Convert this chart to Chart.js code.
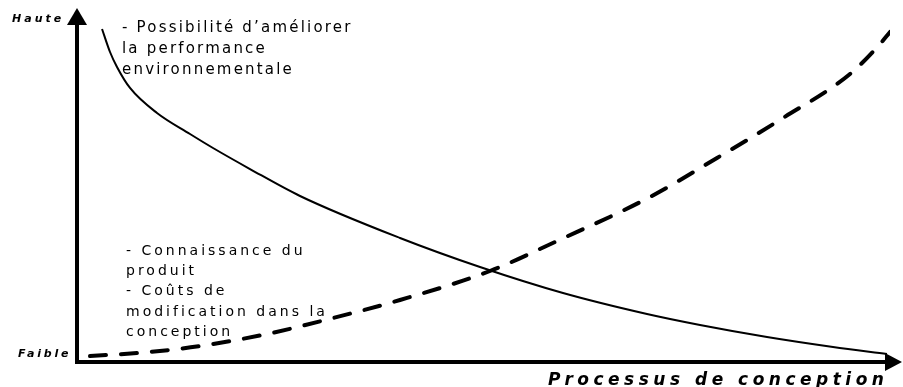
<!DOCTYPE html>
<html>
<head>
<meta charset="utf-8">
<script src="https://cdn.jsdelivr.net/npm/chart.js@4.4.1/dist/chart.umd.min.js"></script>
<style>
  html, body { margin: 0; padding: 0; background: #fff; }
  #wrap { width: 903px; height: 387px; }
</style>
</head>
<body>
<div id="wrap"><canvas id="c"></canvas></div>
<script>
// potentiel d'amélioration (courbe pleine) et coûts/connaissance (courbe en tirets)
var solidX = [3.08, 4.06, 4.92, 6.52, 9.84, 13.90, 16.73, 21.28, 27.43, 39.73, 49.57, 59.78, 70.11, 76.63, 84.87, 92.99, 99.63];
var solidY = [95.14, 88.57, 84.29, 78.29, 71.14, 65.14, 61.14, 55.14, 47.43, 35.43, 27.14, 19.71, 13.71, 10.57, 7.14, 4.29, 2.29];
var dashX = [1.60, 8.98, 15.13, 23.37, 31.49, 39.73, 50.80, 58.79, 70.48, 78.72, 86.84, 95.08, 98.77, 100];
var dashY = [1.71, 2.86, 4.57, 8.0, 12.57, 17.71, 26.0, 34.29, 47.14, 58.29, 69.71, 82.29, 90.86, 94.29];

var topNote = ["- Possibilité d\u2019améliorer", "la performance", "environnementale"];
var bottomNote = ["- Connaissance du", "produit", "- Coûts de", "modification dans la", "conception"];
var yHigh = "Haute";
var yLow = "Faible";
var xTitle = "Processus de conception";

function pts(xs, ys) {
    return xs.map(function (x, i) { return {x: x, y: ys[i]}; });
}

// axes avec flèches + textes
var decor = {
    id: 'decor',
    afterDraw: function (chart) {
        var ctx = chart.ctx;
        var a = chart.chartArea;
        ctx.save();
        ctx.fillStyle = '#000';
        ctx.strokeStyle = '#000';
        ctx.lineWidth = 4;
        ctx.beginPath();
        ctx.moveTo(a.left, a.bottom);
        ctx.lineTo(a.left, 24);
        ctx.moveTo(a.left - 2, a.bottom);
        ctx.lineTo(888, a.bottom);
        ctx.stroke();
        // flèche verticale
        ctx.beginPath();
        ctx.moveTo(a.left, 8);
        ctx.lineTo(a.left - 10, 25);
        ctx.lineTo(a.left + 10, 25);
        ctx.closePath();
        ctx.fill();
        // flèche horizontale
        ctx.beginPath();
        ctx.moveTo(902, a.bottom);
        ctx.lineTo(885, a.bottom - 9);
        ctx.lineTo(885, a.bottom + 9);
        ctx.closePath();
        ctx.fill();

        ctx.textBaseline = 'alphabetic';
        ctx.font = 'italic bold 11px "DejaVu Sans"';
        ctx.letterSpacing = '3px';
        ctx.fillText(yHigh, 12, 22);
        ctx.letterSpacing = '2.8px';
        ctx.fillText(yLow, 18, 357);
        ctx.font = 'italic bold 17px "DejaVu Sans"';
        ctx.letterSpacing = '4.5px';
        ctx.fillText(xTitle, 548, 385);

        ctx.font = '15px "DejaVu Sans"';
        ctx.letterSpacing = '2.2px';
        topNote.forEach(function (t, i) {
            ctx.fillText(t, 122, 32 + i * 21);
        });
        ctx.font = '14px "DejaVu Sans"';
        ctx.letterSpacing = '3px';
        bottomNote.forEach(function (t, i) {
            ctx.fillText(t, 126, 255 + i * 20.2);
        });
        ctx.restore();
    }
};

new Chart(document.getElementById('c'), {
    type: 'line',
    data: {
        datasets: [{
            data: pts(solidX, solidY),
            borderColor: '#000',
            borderWidth: 2,
            pointRadius: 0,
            cubicInterpolationMode: 'monotone'
        }, {
            data: pts(dashX, dashY),
            borderColor: '#000',
            borderWidth: 4,
            borderDash: [16, 15],
            borderCapStyle: 'round',
            pointRadius: 0,
            cubicInterpolationMode: 'monotone'
        }]
    },
    options: {
        responsive: true,
        maintainAspectRatio: false,
        animation: false,
        layout: {padding: {left: 77, right: 13, top: 12, bottom: 25}},
        plugins: {legend: {display: false}, tooltip: {enabled: false}},
        scales: {
            x: {type: 'linear', min: 0, max: 100, display: false},
            y: {min: 0, max: 100, display: false}
        }
    },
    plugins: [decor]
});
</script>
</body>
</html>
